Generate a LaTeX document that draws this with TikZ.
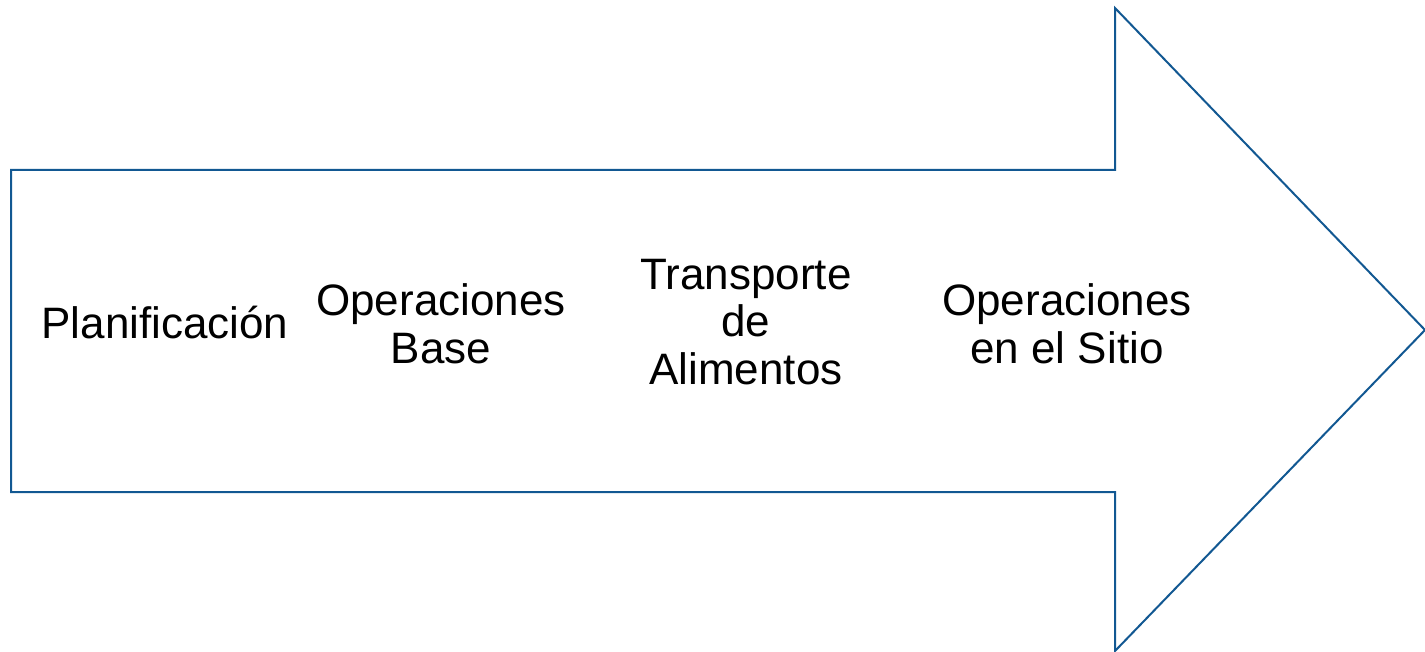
\documentclass[tikz,border=0pt]{standalone}
\usepackage{fontspec}
\setmainfont{Liberation Sans}
\definecolor{arrowblue}{RGB}{18,88,146}
\tikzset{
  lbl/.style={align=center, inner sep=0pt, font=\fontsize{44}{47.5}\selectfont, text=black},
  arrowline/.style={draw=arrowblue, line width=2pt, line join=miter}
}
\begin{document}
\begin{tikzpicture}[x=1pt,y=-1pt]
\useasboundingbox (0,0) rectangle (1425,652);
\draw[arrowline] (11,170) -- (1115,170) -- (1115,8) -- (1425,330) -- (1115,651) -- (1115,492) -- (11,492) -- cycle;
\node[lbl] (plan) at (165,323) {Planificación};
\node[lbl] (base) at (441,324) {Operaciones\\Base};
\node[lbl] (trans) at (746,322) {Transporte\\de\\Alimentos};
\node[lbl] (sitio) at (1067,324) {Operaciones\\en el Sitio};
\end{tikzpicture}
\end{document}
